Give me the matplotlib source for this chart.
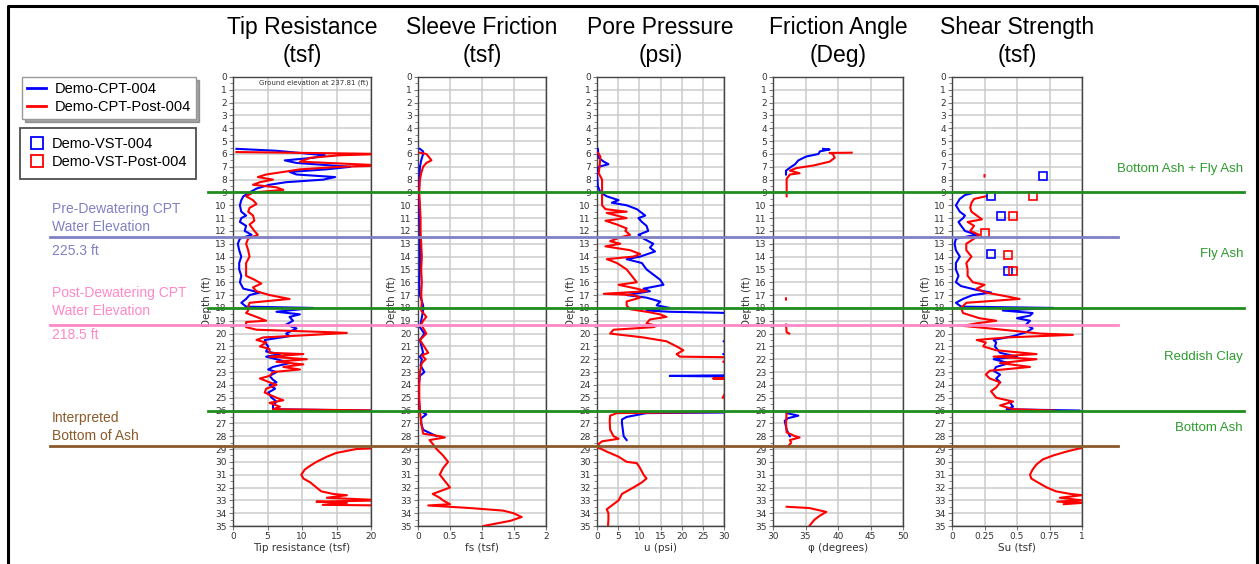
import numpy as np
import matplotlib
matplotlib.use("Agg")
import matplotlib.pyplot as plt
from matplotlib.lines import Line2D
from matplotlib import transforms
from matplotlib.ticker import MultipleLocator

nan = float("nan")

# ---------------- data ----------------
tip_cpt_depth = [5.6,5.75,6.1,6.3,6.5,6.7,7.0,7.2,7.4,7.6,7.8,8.0,8.2,8.4,8.7,9.0,9.3,9.6,10.0,10.5,10.8,11.0,11.3,11.6,12.0,12.3,12.6,13.0,13.5,14.0,14.5,15.0,15.5,16.0,16.5,16.8,17.0,17.3,17.6,17.9,18.0,18.3,18.5,18.7,19.0,19.3,19.6,20.0,20.2,20.5,20.8,21.0,21.4,21.6,21.8,22.0,22.3,22.6,22.8,23.0,23.3,23.6,23.8,24.0,24.3,24.6,25.0,25.3,25.6,25.9,26.0]
tip_cpt = [0.5,6.3,13.3,11.6,7.5,9.2,17.0,13.5,8.2,9.2,14.8,13.1,7.7,5.3,3.4,2.4,1.5,1.2,1.0,1.2,1.9,1.2,1.0,1.9,1.7,2.7,1.0,0.7,0.9,1.2,0.9,0.9,1.2,1.0,1.5,3.9,2.4,1.9,1.2,1.9,11.6,6.3,9.7,8.2,8.7,7.7,9.2,7.7,8.2,4.6,4.8,5.1,4.8,6.8,4.8,6.3,8.2,5.8,5.1,6.3,5.3,5.8,6.3,5.3,6.1,5.1,5.6,6.3,5.8,5.8,20.0]

tip_post_depth = [5.85,5.9,6.0,6.1,6.3,6.6,6.9,7.0,7.2,7.4,7.6,7.8,8.0,8.2,8.4,8.6,8.8,9.0,9.3,9.6,9.9,10.2,10.5,10.8,11.2,11.5,12.0,12.3,12.6,13.0,13.5,14.0,14.5,15.0,15.5,15.8,16.1,16.4,16.7,17.0,17.3,17.6,17.9,18.2,18.4,18.7,19.0,19.1,19.5,19.7,19.9,19.95,20.1,20.3,20.5,20.7,21.0,21.2,21.5,21.6,21.8,22.0,22.2,22.4,22.6,22.8,23.0,23.3,23.5,23.8,24.0,24.3,24.6,25.0,25.2,25.4,25.7,25.9,26.0,nan,28.9,29.0,29.3,29.6,30.0,30.3,30.6,31.0,31.3,31.6,32.0,32.3,32.5,32.6,32.8,33.0,33.1,33.2,33.35,33.4]
tip_post = [0.5,8.0,22.0,15.5,11.2,9.7,22.0,15.5,9.7,7.3,4.8,3.6,5.8,3.9,2.9,6.3,7.3,2.9,1.9,2.9,3.4,2.4,2.2,2.9,3.1,2.4,3.1,3.6,2.2,1.9,2.2,2.4,1.9,1.9,1.9,3.1,4.1,2.9,3.4,5.3,8.2,2.4,2.2,2.2,1.9,3.4,4.8,1.9,1.9,3.4,14.5,16.5,11.6,4.4,3.4,4.8,3.9,5.3,5.3,10.2,5.3,10.7,6.3,10.2,7.3,9.7,5.8,5.3,3.9,5.3,6.3,4.8,4.6,6.3,7.3,5.3,6.8,5.8,22.0,nan,22.0,17.9,15.0,13.6,12.1,11.2,10.4,9.9,10.2,11.2,12.1,12.8,14.5,16.5,13.6,22.0,12.1,16.5,13.0,22.0]

fs_cpt_depth = [5.6,5.8,6.0,6.5,7.0,8.0,9.0,10.0,11.0,12.0,13.0,14.0,15.0,16.0,17.0,17.8,18.2,19.0,19.5,20.0,20.5,21.5,21.8,22.0,22.5,23.0,23.3,24.0,25.0,26.0,26.3,26.6,27.0,27.5,28.0]
fs_cpt = [0.03,0.08,0.08,0.05,0.03,0.02,0.01,0.02,0.02,0.03,0.03,0.03,0.03,0.02,0.03,0.08,0.08,0.05,0.03,0.10,0.03,0.08,0.03,0.06,0.04,0.10,0.03,0.01,0.01,0.03,0.13,0.05,0.05,0.08,0.29]

fs_post_depth = [5.9,6.0,6.3,6.5,6.7,7.0,7.5,8.0,9.0,10.0,11.0,12.0,13.0,14.0,15.0,16.0,17.0,17.5,18.2,18.7,19.0,19.3,20.0,20.5,21.5,21.7,22.0,22.3,23.0,24.0,25.0,26.0,27.0,27.8,28.0,28.1,28.3,28.6,29.0,29.5,30.0,30.5,31.0,31.5,32.0,32.5,32.8,33.0,33.3,33.4,33.6,33.8,34.0,34.3,34.6,35.0]
fs_post = [0.03,0.13,0.18,0.21,0.13,0.08,0.05,0.03,0.02,0.03,0.04,0.04,0.05,0.06,0.05,0.06,0.05,0.06,0.05,0.13,0.08,0.05,0.13,0.03,0.16,0.06,0.12,0.06,0.03,0.02,0.02,0.03,0.05,0.08,0.34,0.42,0.18,0.23,0.29,0.39,0.47,0.39,0.34,0.42,0.50,0.23,0.34,0.39,0.50,0.16,0.81,1.33,1.49,1.62,1.44,1.02]

u_cpt_depth = [5.6,6.3,6.6,6.8,7.0,7.5,8.5,9.0,9.3,9.6,9.8,10.0,10.3,10.5,10.8,11.0,11.3,11.6,12.0,12.3,12.6,13.0,13.3,13.6,14.0,14.2,14.5,15.0,15.5,15.8,16.2,16.5,16.7,17.0,17.2,17.5,17.8,18.0,18.2,18.3,18.4,20.5,20.6,20.7,21.5,21.6,21.7,23.25,23.3,23.35,26.1,26.15,26.2,26.5,26.7,27.0,28.0,28.3]
u_cpt = [0.2,0.4,1.6,2.7,0.4,0.0,0.2,0.8,2.3,5.1,3.5,7.0,9.4,10.2,11.4,9.8,10.6,11.7,12.1,9.8,11.0,13.3,12.5,13.7,10.2,7.0,10.6,11.7,13.7,14.9,15.7,11.0,12.5,7.0,11.7,14.9,14.1,17.2,11.7,17.2,32.0,32.0,29.9,32.0,32.0,29.8,32.0,32.0,17.2,32.0,32.0,32.0,11.7,7.0,5.9,5.9,6.3,7.0]

u_post_depth = [5.9,6.2,7.0,7.5,8.0,9.0,10.0,10.3,10.5,10.6,11.0,11.2,11.5,11.8,12.0,12.3,12.5,12.8,13.0,13.2,13.5,13.8,14.0,14.2,14.5,15.0,15.5,16.0,16.2,16.5,16.7,16.9,17.0,17.2,17.5,17.8,18.1,18.3,18.5,18.7,18.9,19.2,19.4,19.5,19.7,20.0,20.3,20.6,21.0,21.3,21.6,21.8,21.85,22.2,22.3,23.45,23.5,23.55,25.0,25.05,26.1,26.2,26.4,26.8,27.5,28.0,28.2,28.4,28.6,28.9,29.2,29.6,30.0,30.1,30.5,31.0,31.3,31.6,32.0,32.5,33.0,33.3,33.7,34.0,34.5,35.0]
u_post = [0.2,0.8,0.6,0.4,1.2,1.2,1.2,2.0,7.0,2.3,7.0,2.0,4.7,7.0,6.7,7.8,5.5,3.1,5.5,2.0,7.8,10.2,8.6,2.3,4.7,7.0,8.2,9.4,5.1,9.4,11.7,1.6,8.6,10.2,7.0,7.0,7.8,11.7,14.9,16.4,12.5,11.7,14.1,13.3,3.9,3.1,10.9,16.4,18.8,20.4,18.8,19.6,32.0,29.8,32.0,32.0,27.4,32.0,29.7,32.0,32.0,4.7,3.1,3.0,3.1,3.9,5.1,1.2,0.4,0.4,2.3,5.1,7.0,9.4,10.2,11.0,11.7,10.6,8.6,5.9,5.1,3.9,2.3,2.7,2.7,2.6]

phi_cpt_depth = [5.6,5.65,5.8,6.0,6.2,6.5,6.8,7.0,7.3,7.6,nan,26.2,26.4,26.6,26.8,27.5,28.0]
phi_cpt = [37.7,38.7,37.2,37.0,35.1,33.9,33.4,32.8,32.0,32.0,nan,32.1,33.9,32.3,31.8,32.1,32.6]

phi_post_depth = [5.9,5.92,6.0,6.3,6.6,6.9,7.1,7.3,7.5,7.6,7.8,7.95,8.5,9.3,nan,17.25,17.35,nan,19.3,19.9,20.0,nan,26.1,27.0,27.7,28.0,28.1,28.3,28.5,28.8,nan,33.5,33.6,33.9,34.2,34.5,34.8,35.0]
phi_post = [42.1,38.7,39.2,39.5,38.7,36.2,33.6,32.6,34.1,32.6,32.3,32.1,32.1,32.1,nan,32.0,32.0,nan,32.0,32.1,32.5,nan,32.1,32.0,32.1,33.4,34.1,32.6,32.8,32.3,nan,32.1,35.6,38.2,37.2,36.4,35.9,35.6]

su_cpt_depth = [9.0,9.2,9.5,10.0,10.5,10.8,11.0,11.3,11.6,12.0,12.3,12.6,13.0,13.5,14.0,14.5,15.0,15.5,16.0,16.3,16.6,16.8,17.0,17.3,17.6,17.9,18.0,18.2,18.4,18.6,18.8,19.0,19.3,19.6,19.9,20.2,20.5,20.7,21.0,21.5,21.8,22.0,22.3,22.6,22.9,23.2,23.5,23.8,nan,25.3,25.7,25.9,26.0]
su_cpt = [0.175,0.10,0.06,0.03,0.06,0.10,0.085,0.05,0.07,0.10,0.19,0.03,0.02,0.03,0.06,0.03,0.03,0.05,0.03,0.07,0.19,0.30,0.16,0.085,0.03,0.07,0.78,0.39,0.62,0.60,0.50,0.60,0.57,0.62,0.57,0.47,0.32,0.34,0.33,0.37,0.50,0.32,0.44,0.34,0.32,0.37,0.34,0.37,nan,0.44,0.47,0.42,0.98]

su_post_depth = [7.65,7.75,nan,9.3,9.5,9.8,10.2,10.5,10.8,11.1,11.3,11.6,12.0,12.3,12.6,13.0,13.5,14.0,14.5,15.0,15.5,16.0,16.2,16.5,16.8,17.1,17.3,17.6,18.0,18.4,18.8,19.0,19.2,19.4,19.7,20.0,20.1,20.3,20.5,20.7,21.0,21.3,21.6,21.8,22.0,22.3,22.6,22.9,23.2,23.5,23.8,24.2,24.5,25.0,25.3,25.6,25.9,26.0,nan,28.9,29.2,29.5,29.8,30.2,30.6,31.0,31.3,31.6,32.0,32.3,32.5,32.6,32.8,33.0,33.1,33.2,33.3]
su_post = [0.25,0.25,nan,0.26,0.17,0.15,0.14,0.15,0.19,0.23,0.12,0.17,0.14,0.21,0.17,0.11,0.11,0.15,0.11,0.12,0.12,0.16,0.25,0.19,0.26,0.42,0.52,0.11,0.07,0.085,0.21,0.34,0.19,0.085,0.39,0.68,0.93,0.42,0.19,0.26,0.24,0.34,0.65,0.32,0.65,0.37,0.60,0.29,0.26,0.29,0.37,0.34,0.30,0.34,0.47,0.37,0.47,0.79,nan,1.0,0.88,0.78,0.70,0.65,0.62,0.60,0.61,0.66,0.73,0.80,0.91,1.0,0.83,1.0,0.81,1.0,0.86]

vst_depth = [7.75,9.25,10.85,13.8,15.1]
vst_su = [0.70,0.30,0.38,0.30,0.43]
vst_post_depth = [9.25,10.85,12.15,13.85,15.1]
vst_post_su = [0.62,0.47,0.25,0.43,0.47]

titles = ["Tip Resistance\n(tsf)", "Sleeve Friction\n(tsf)", "Pore Pressure\n(psi)", "Friction Angle\n(Deg)", "Shear Strength\n(tsf)"]
xlabels = ["Tip resistance (tsf)", "fs (tsf)", "u (psi)", "\u03c6 (degrees)", "Su (tsf)"]
xlims = [(0, 20), (0, 2), (0, 30), (30, 50), (0, 1)]
xticks = [[0, 5, 10, 15, 20], [0, 0.5, 1, 1.5, 2], [0, 5, 10, 15, 20, 25, 30], [30, 35, 40, 45, 50], [0, 0.25, 0.5, 0.75, 1]]
xticklabels = [["0", "5", "10", "15", "20"], ["0", "0.5", "1", "1.5", "2"], ["0", "5", "10", "15", "20", "25", "30"], ["30", "35", "40", "45", "50"], ["0", "0.25", "0.5", "0.75", "1"]]

layer_depths = [9.0, 18.0, 26.0]
layer_names = ["Bottom Ash + Fly Ash", "Fly Ash", "Reddish Clay", "Bottom Ash"]
pre_water_depth = 12.5
post_water_depth = 19.3
bottom_ash_depth = 28.8

legend_cpt = ["Demo-CPT-004", "Demo-CPT-Post-004"]
legend_vst = ["Demo-VST-004", "Demo-VST-Post-004"]

# ---------------- figure ----------------
W, H = 1259, 564
fig = plt.figure(figsize=(W / 100, H / 100), dpi=100)
plt.rcParams['font.family'] = ['DejaVu Sans']

def fx(p):
    return p / W

def fy(p):
    return 1 - p / H

BLUE = "#0000ff"
RED = "#ff0000"
GREEN = "#1e8c1e"
GREEN_T = "#2e9a2e"
PURPLE = "#8080c4"
PINK = "#ff88c8"
BROWN = "#8b5a2b"

panels = [(233, 371), (418, 546), (597, 724), (773, 903), (952, 1082)]
ytop, ybot = 77, 526
series = [
    (tip_cpt_depth, tip_cpt, tip_post_depth, tip_post),
    (fs_cpt_depth, fs_cpt, fs_post_depth, fs_post),
    (u_cpt_depth, u_cpt, u_post_depth, u_post),
    (phi_cpt_depth, phi_cpt, phi_post_depth, phi_post),
    (su_cpt_depth, su_cpt, su_post_depth, su_post),
]
axes = []
for i, (l, r) in enumerate(panels):
    ax = fig.add_axes([fx(l), fy(ybot), fx(r - l), (ybot - ytop) / H])
    axes.append(ax)
    d1, v1, d2, v2 = series[i]
    ax.plot(v1, d1, color=BLUE, lw=1.5, zorder=3)
    ax.plot(v2, d2, color=RED, lw=1.5, zorder=4)
    ax.set_xlim(*xlims[i])
    ax.set_ylim(35, 0)
    ax.set_xticks(xticks[i])
    ax.set_xticklabels(xticklabels[i])
    ax.set_yticks(range(0, 36))
    ax.yaxis.set_minor_locator(MultipleLocator(0.5))
    ax.grid(True, which='major', color="#cccccc", lw=1.1, zorder=0)
    ax.set_axisbelow(True)
    ax.tick_params(axis='both', which='major', labelsize=6.5, length=3, color="#777777",
                   labelcolor="#333333", pad=1.5)
    ax.tick_params(axis='y', which='minor', length=2, color="#777777")
    for s in ax.spines.values():
        s.set_color("#444444")
        s.set_linewidth(1.0)
    ax.set_xlabel(xlabels[i], fontsize=7.5, color="#333333", labelpad=1)
    ax.set_ylabel("Depth (ft)", fontsize=7.5, color="#333333", labelpad=2)
    ax.set_title(titles[i], fontsize=16.5, family="Liberation Sans", pad=11, linespacing=1.28)

axes[4].plot(vst_su, vst_depth, 's', mfc='none', mec=BLUE, ms=6, mew=1.2, zorder=5)
axes[4].plot(vst_post_su, vst_post_depth, 's', mfc='none', mec=RED, ms=6, mew=1.2, zorder=5)

axes[0].text(0.98, 0.995, "Ground elevation at 237.81 (ft)", transform=axes[0].transAxes,
             ha='right', va='top', fontsize=5, color="#333333")

# horizontal interpretation lines across the figure
bt = transforms.blended_transform_factory(fig.transFigure, axes[0].transData)
for d in layer_depths:
    fig.add_artist(Line2D([fx(208), fx(1244)], [d, d], transform=bt, color=GREEN, lw=2.0, zorder=6))
fig.add_artist(Line2D([fx(50), fx(1118)], [pre_water_depth] * 2, transform=bt, color=PURPLE, lw=2.0, zorder=6))
fig.add_artist(Line2D([fx(50), fx(1118)], [post_water_depth] * 2, transform=bt, color=PINK, lw=2.0, zorder=6))
fig.add_artist(Line2D([fx(50), fx(1118)], [bottom_ash_depth] * 2, transform=bt, color=BROWN, lw=2.0, zorder=6))

# left annotations
fs_ann = 10
fig.text(fx(52), fy(218), "Pre-Dewatering CPT\nWater Elevation", color=PURPLE, fontsize=fs_ann,
         family="Liberation Sans", va='center', ha='left', linespacing=1.3)
fig.text(fx(52), fy(251), "225.3 ft", color=PURPLE, fontsize=fs_ann, family="Liberation Sans", va='center')
fig.text(fx(52), fy(302), "Post-Dewatering CPT\nWater Elevation", color=PINK, fontsize=fs_ann,
         family="Liberation Sans", va='center', ha='left', linespacing=1.3)
fig.text(fx(52), fy(335), "218.5 ft", color=PINK, fontsize=fs_ann, family="Liberation Sans", va='center')
fig.text(fx(52), fy(427), "Interpreted\nBottom of Ash", color=BROWN, fontsize=fs_ann,
         family="Liberation Sans", va='center', ha='left', linespacing=1.3)

# right layer labels
label_y = [169, 254, 357, 428]
for name, yy in zip(layer_names, label_y):
    fig.text(fx(1243), fy(yy), name, color=GREEN_T, fontsize=9.5, family="Liberation Sans",
             ha='right', va='center')

# legends
h1 = [Line2D([], [], color=BLUE, lw=2), Line2D([], [], color=RED, lw=2)]
leg1 = fig.legend(h1, legend_cpt, loc='upper left', bbox_to_anchor=(fx(22), fy(77)),
                  prop={'family': 'Liberation Sans', 'size': 10.5}, frameon=True, shadow=True,
                  fancybox=False, borderaxespad=0, handlelength=1.3, handletextpad=0.6,
                  labelspacing=0.25, borderpad=0.35)
leg1.get_frame().set_edgecolor("#999999")
leg1.get_frame().set_linewidth(1.0)
h2 = [Line2D([], [], color=BLUE, marker='s', ls='none', mfc='none', mew=1.3, ms=8),
      Line2D([], [], color=RED, marker='s', ls='none', mfc='none', mew=1.3, ms=8)]
leg2 = fig.legend(h2, legend_vst, loc='upper left', bbox_to_anchor=(fx(20), fy(128)),
                  prop={'family': 'Liberation Sans', 'size': 10.5}, frameon=True, shadow=False,
                  fancybox=False, borderaxespad=0, handlelength=1.0, handletextpad=0.5,
                  labelspacing=0.25, borderpad=0.65)
leg2.get_frame().set_edgecolor("#222222")
leg2.get_frame().set_linewidth(1.3)

# outer frame
fig.add_artist(Line2D([fx(8), fx(8), fx(1257), fx(1257)], [0, fy(6), fy(6), 0],
                      transform=fig.transFigure, color="black", lw=2.2, zorder=10))

fig.savefig("out.png", dpi=100)
